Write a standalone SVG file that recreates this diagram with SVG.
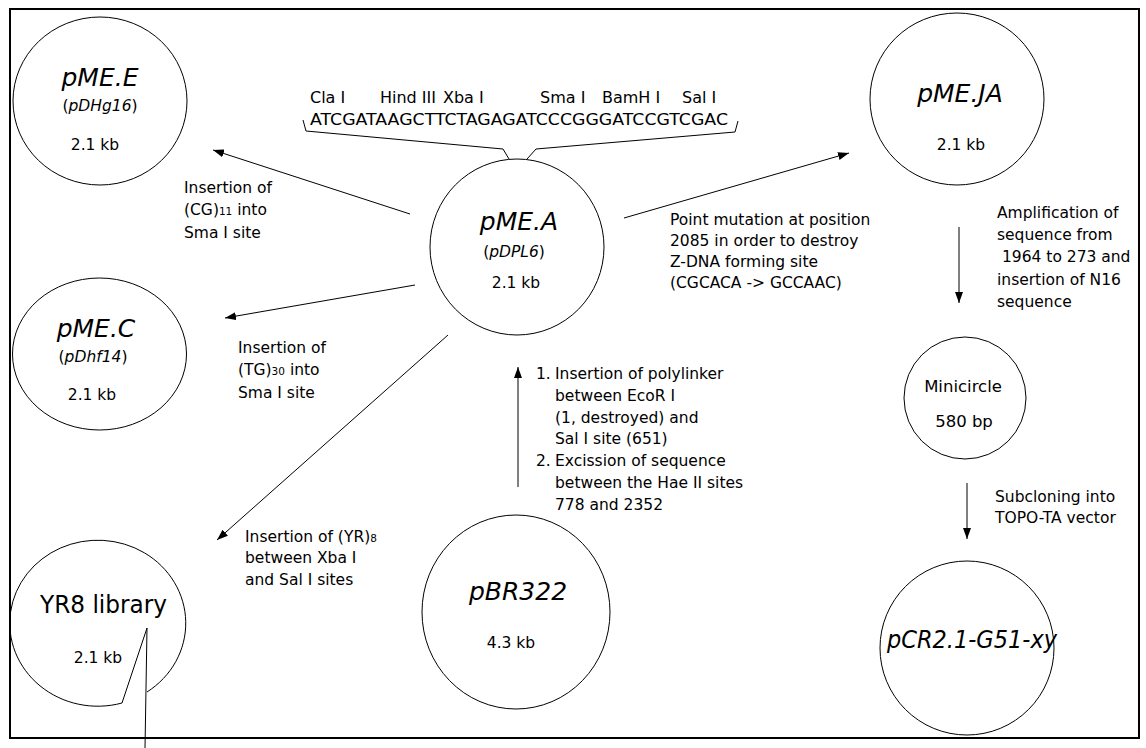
<svg xmlns="http://www.w3.org/2000/svg" width="1146" height="748" viewBox="0 0 1146 748">
<style>
text{font-family:"DejaVu Sans","Liberation Sans",sans-serif;fill:#000}
.big{font-size:25px;font-style:italic;text-anchor:middle}
.sm{font-size:15.5px;text-anchor:middle}
.it{font-style:italic}
.d{font-size:15.5px}
.sub{font-size:10.5px}
.shape{fill:none;stroke:#000;stroke-width:1}
.conn line{stroke:#000;stroke-width:1}
.arr{marker-end:url(#ah)}
</style>
<defs>
<marker id="ah" markerWidth="11" markerHeight="8" refX="11" refY="4" orient="auto" markerUnits="userSpaceOnUse">
<path d="M0,0 L11,4 L0,8 z" fill="#000"/>
</marker>
</defs>
<rect x="0" y="0" width="1146" height="748" fill="#fff"/>
<rect x="10" y="9" width="1129" height="729" fill="none" stroke="#000" stroke-width="2"/>

<g id="pME_E">
<ellipse class="shape" cx="100" cy="101" rx="87" ry="84"/>
<text class="big" x="100" y="86">pME.E</text>
<text class="sm" x="100" y="111">(<tspan class="it">pDHg16</tspan>)</text>
<text class="sm" x="95" y="150">2.1 kb</text>
</g>

<g id="pME_A">
<ellipse class="shape" cx="517" cy="247" rx="87" ry="88"/>
<text class="big" x="519" y="230">pME.A</text>
<text class="sm" x="514" y="257">(<tspan class="it">pDPL6</tspan>)</text>
<text class="sm" x="516" y="288">2.1 kb</text>
</g>

<g id="polylinker">
<text x="310" y="103" style="font-size:16px">Cla I</text>
<text x="380" y="103" style="font-size:16px">Hind III</text>
<text x="443" y="103" style="font-size:16px">Xba I</text>
<text x="540" y="103" style="font-size:16px">Sma I</text>
<text x="602" y="103" style="font-size:16px">BamH I</text>
<text x="682" y="103" style="font-size:16px">Sal I</text>
<text x="310" y="125" style="font-size:16.5px" textLength="418" lengthAdjust="spacingAndGlyphs">ATCGATAAGCTTCTAGAGATCCCGGGATCCGTCGAC</text>
<path class="shape" d="M303,120 L306,131 L503,149 L509,159 M738,121 L735,132 L536,149 L527,159"/>
</g>

<g id="pME_JA">
<ellipse class="shape" cx="957" cy="99" rx="87" ry="86"/>
<text class="big" x="960" y="102">pME.JA</text>
<text class="sm" x="961" y="150">2.1 kb</text>
</g>

<g id="pME_C">
<ellipse class="shape" cx="99.5" cy="354" rx="87" ry="76"/>
<text class="big" x="96" y="337">pME.C</text>
<text class="sm" x="93" y="362">(<tspan class="it">pDhf14</tspan>)</text>
<text class="sm" x="92" y="400">2.1 kb</text>
</g>

<g id="minicircle">
<ellipse class="shape" cx="965" cy="398" rx="61" ry="61"/>
<text class="sm" x="963" y="392" style="font-size:16.5px">Minicircle</text>
<text class="sm" x="964" y="427" style="font-size:16.5px">580 bp</text>
</g>

<g id="pCR">
<ellipse class="shape" cx="967" cy="648" rx="87" ry="87"/>
<text class="big" x="972" y="648" textLength="170" lengthAdjust="spacingAndGlyphs">pCR2.1-G51-xy</text>
</g>

<g id="YR8">
<path class="shape" d="M147,692 A88,83 0 1 0 122,703 L147,628 L145,748"/>
<text x="40" y="613" style="font-size:25px" textLength="127" lengthAdjust="spacingAndGlyphs">YR8 library</text>
<text class="sm" x="98" y="663">2.1 kb</text>
</g>

<g id="pBR322">
<ellipse class="shape" cx="516" cy="612" rx="94" ry="97"/>
<text class="big" x="518" y="600">pBR322</text>
<text class="sm" x="511" y="648">4.3 kb</text>
</g>

<g class="conn" id="connectors">
<line class="arr" x1="410" y1="214" x2="213" y2="150"/>
<line class="arr" x1="415" y1="285" x2="225" y2="318"/>
<line class="arr" x1="448" y1="335" x2="217" y2="540"/>
<line class="arr" x1="624" y1="218" x2="849" y2="153"/>
<line class="arr" x1="518" y1="487" x2="518" y2="367"/>
<line class="arr" x1="959" y1="227" x2="959" y2="303"/>
<line class="arr" x1="967" y1="483" x2="967" y2="539"/>
</g>

<g id="labels">
<text class="d" x="184" y="193">Insertion of</text>
<text class="d" x="184" y="215">(CG)<tspan class="sub">11</tspan> into</text>
<text class="d" x="184" y="238">Sma I site</text>

<text class="d" x="238" y="353">Insertion of</text>
<text class="d" x="238" y="375">(TG)<tspan class="sub">30</tspan> into</text>
<text class="d" x="238" y="398">Sma I site</text>

<text class="d" x="245" y="542">Insertion of (YR)<tspan class="sub">8</tspan></text>
<text class="d" x="245" y="563">between Xba I</text>
<text class="d" x="245" y="585">and Sal I sites</text>

<text class="d" x="670" y="225">Point mutation at position</text>
<text class="d" x="670" y="246">2085 in order to destroy</text>
<text class="d" x="670" y="267">Z-DNA forming site</text>
<text class="d" x="670" y="288">(CGCACA -&gt; GCCAAC)</text>

<text class="d" x="997" y="218">Amplification of</text>
<text class="d" x="997" y="240">sequence from</text>
<text class="d" x="997" y="262" xml:space="preserve"> 1964 to 273 and</text>
<text class="d" x="997" y="285">insertion of N16</text>
<text class="d" x="997" y="307">sequence</text>

<text class="d" x="536" y="379">1.</text>
<text class="d" x="555" y="379">Insertion of polylinker</text>
<text class="d" x="555" y="401">between EcoR I</text>
<text class="d" x="555" y="423">(1, destroyed) and</text>
<text class="d" x="555" y="444">Sal I site (651)</text>
<text class="d" x="536" y="466">2.</text>
<text class="d" x="555" y="466">Excission of sequence</text>
<text class="d" x="555" y="488">between the Hae II sites</text>
<text class="d" x="555" y="510">778 and 2352</text>

<text class="d" x="995" y="502">Subcloning into</text>
<text class="d" x="995" y="523">TOPO-TA vector</text>
</g>
</svg>
